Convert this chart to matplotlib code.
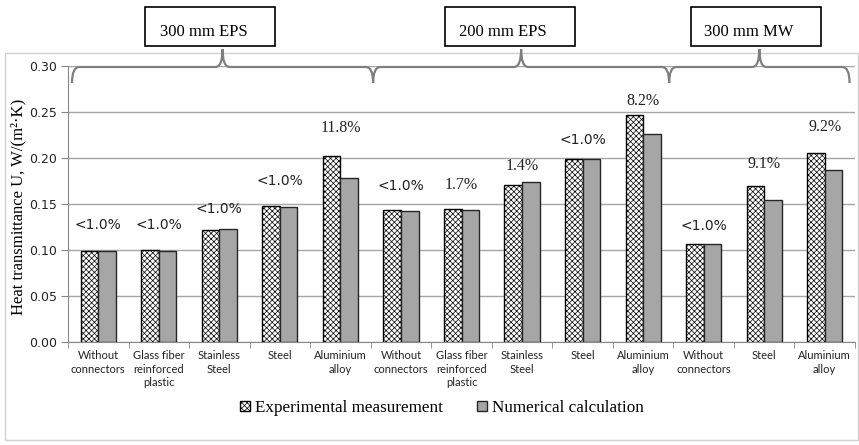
import matplotlib
matplotlib.use("Agg")
import matplotlib.pyplot as plt
import numpy as np
from matplotlib.patches import Rectangle, PathPatch
from matplotlib.path import Path
import matplotlib.transforms as mtransforms

categories = ["Without\nconnectors", "Glass fiber\nreinforced\nplastic", "Stainless\nSteel", "Steel",
              "Aluminium\nalloy", "Without\nconnectors", "Glass fiber\nreinforced\nplastic", "Stainless\nSteel",
              "Steel", "Aluminium\nalloy", "Without\nconnectors", "Steel", "Aluminium\nalloy"]
experimental = [0.099, 0.100, 0.122, 0.148, 0.202, 0.144, 0.145, 0.171, 0.199, 0.247, 0.106, 0.170, 0.205]
numerical = [0.099, 0.099, 0.123, 0.147, 0.178, 0.142, 0.143, 0.174, 0.199, 0.226, 0.106, 0.154, 0.187]
diff_labels = ["<1.0%", "<1.0%", "<1.0%", "<1.0%", "11.8%", "<1.0%", "1.7%", "1.4%", "<1.0%", "8.2%",
               "<1.0%", "9.1%", "9.2%"]
label_heights = [0.127, 0.127, 0.1446, 0.175, 0.2326, 0.1696, 0.171, 0.1917, 0.2196, 0.262, 0.1265, 0.194, 0.2334]
label_serif = [False, False, False, False, True, False, True, True, False, True, False, True, True]
group_names = ["300 mm EPS", "200 mm EPS", "300 mm MW"]
yticks = [0.00, 0.05, 0.10, 0.15, 0.20, 0.25, 0.30]

SERIF = ["Liberation Serif", "DejaVu Serif"]
SANS = ["DejaVu Sans"]

W, H = 859, 445
fig = plt.figure(figsize=(W / 100, H / 100), dpi=100)
ax = fig.add_axes([68 / W, 1 - 342 / H, (855 - 68) / W, (342 - 66) / H])

x = np.arange(len(categories))
bw = 0.29
plt.rcParams['hatch.linewidth'] = 0.5
ax.bar(x - bw / 2, experimental, bw, facecolor="white", edgecolor="black", hatch="xxxxxx",
       linewidth=1.0, label="Experimental measurement", zorder=3)
ax.bar(x + bw / 2, numerical, bw, facecolor="#a6a6a6", edgecolor="#262626",
       linewidth=1.0, label="Numerical calculation", zorder=3)

for xi, lab, h, serif in zip(x, diff_labels, label_heights, label_serif):
    ax.text(xi, h, lab, ha="center", va="center",
            family=SERIF if serif else SANS, fontsize=11.5 if serif else 10, color="#222222")

ax.set_xlim(-0.5, len(categories) - 0.5)
ax.set_ylim(0, 0.30)
ax.set_yticks(yticks)
ax.set_yticklabels([f"{v:.2f}" for v in yticks], family=SANS, fontsize=9, color="#222222")
ax.set_xticks(x)
ax.set_xticklabels(categories, family=["Lato", "DejaVu Sans"], fontsize=8, color="#222222", linespacing=1.25)
ax.tick_params(axis="x", length=0, pad=6)
ax.set_xticks(np.arange(-0.5, len(categories), 1.0), minor=True)
ax.tick_params(axis="x", which="minor", length=4, color="#888888", direction="out")
ax.tick_params(axis="y", length=5, color="#888888", pad=3)
ax.grid(axis="y", color="#a6a6a6", linewidth=1.0, zorder=0)
ax.set_axisbelow(True)
for s in ["top", "right"]:
    ax.spines[s].set_visible(False)
for s in ["left", "bottom"]:
    ax.spines[s].set_color("#888888")
ax.set_ylabel("Heat transmittance U, W/(m²·K)", family=SERIF, fontsize=12, va="center")
ax.yaxis.set_label_coords(-0.0635, 0.49)

# braces and boxes
trans = mtransforms.blended_transform_factory(ax.transData, ax.transAxes)
px = 1 / 276.0
y_line = 1.0 - 1 * px
y_tip = 1.0 - 17 * px
y_peak = 1.0 + 17 * px
d = 0.12
brace_spans = [(-0.434, 4.54), (4.54, 9.43), (9.43, 12.41)]
box_centers = [1.847, 6.80, 10.86]
for (a, b), name, bc in zip(brace_spans, group_names, box_centers):
    mid = (a + b) / 2
    verts = [(a, y_tip), (a, y_line), (a + d, y_line),
             (mid - d, y_line),
             (mid, y_line), (mid, y_peak),
             (mid, y_line), (mid + d, y_line),
             (b - d, y_line),
             (b, y_line), (b, y_tip)]
    codes = [Path.MOVETO, Path.CURVE3, Path.CURVE3,
             Path.LINETO,
             Path.CURVE3, Path.CURVE3,
             Path.CURVE3, Path.CURVE3,
             Path.LINETO,
             Path.CURVE3, Path.CURVE3]
    ax.add_patch(PathPatch(Path(verts, codes), transform=trans, fill=False,
                           edgecolor="#7f7f7f", linewidth=1.6, clip_on=False, zorder=5))
    bw_box = 2.15
    ax.add_patch(Rectangle((bc - bw_box / 2, 1 + 20 * px), bw_box, 39 * px, transform=trans, fill=True,
                           facecolor="white", edgecolor="black", linewidth=1.2, clip_on=False, zorder=6))
    ax.text(bc - 0.11, 1 + 34 * px, name, transform=trans, ha="center", va="center",
            family=SERIF, fontsize=12, zorder=7)

# outer frame
fig.add_artist(Rectangle((5 / W, 1 - 440 / H), (858 - 5) / W, (440 - 53) / H, transform=fig.transFigure,
                         fill=False, edgecolor="#d0d0d0", linewidth=1.0, zorder=0))

leg = fig.legend(loc="center", bbox_to_anchor=(442 / W, 1 - 408 / H), ncol=2, frameon=False,
                 prop={"family": SERIF, "size": 12.3}, handlelength=0.6, handleheight=0.6,
                 handletextpad=0.3, columnspacing=2.0)

fig.savefig("out.png", dpi=100)
